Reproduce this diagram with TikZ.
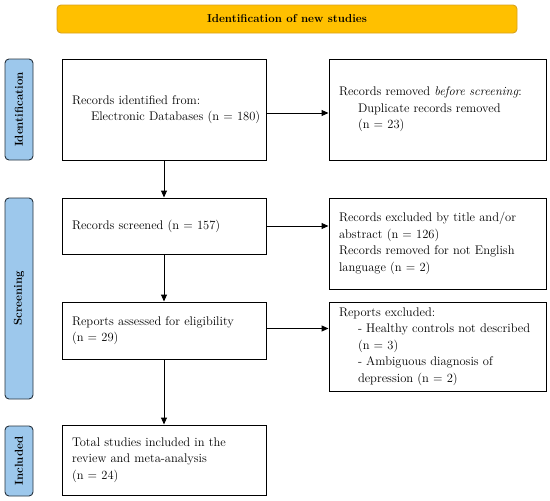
\documentclass[tikz,border=0pt]{standalone}
\usetikzlibrary{arrows.meta}
\definecolor{bannerfill}{HTML}{FFC000}
\definecolor{bannerdraw}{HTML}{D9A21E}
\definecolor{sidefill}{HTML}{9DC8EC}
\definecolor{sidedraw}{HTML}{26323E}
\begin{document}
\begin{tikzpicture}[x=1pt,y=-1pt,
  every node/.style={font=\fontsize{12.5}{16.5}\selectfont},
  box/.style={draw=black, line width=1pt, rectangle, align=left, inner xsep=10pt, inner ysep=0pt, anchor=center},
  sidebox/.style={draw=sidedraw, fill=sidefill, line width=0.9pt, rounded corners=4pt, rotate=90, minimum height=28pt, inner sep=0pt, font=\fontsize{11.5}{13}\selectfont\bfseries},
  banner/.style={draw=bannerdraw, fill=bannerfill, line width=0.9pt, rounded corners=4pt, minimum width=460pt, minimum height=28pt, inner sep=0pt, font=\fontsize{11.5}{13}\selectfont\bfseries},
  arr/.style={-{Triangle[length=7pt,width=6pt]}, line width=1pt}
]
\useasboundingbox (0,0) rectangle (550,501);
\newcommand{\ind}{\hspace*{19pt}}
\node[banner] (ban) at (287,19) {Identification of new studies};

\node[sidebox, minimum width=101pt] (sid) at (19,109.5) {Identification};
\node[sidebox, minimum width=201pt] (sscr) at (19,298.5) {Screening};
\node[sidebox, minimum width=70pt] (sinc) at (19,461) {Included};

\node[box, text width=184pt, minimum height=101pt] (b1) at (164,109.5) {Records identified from:\\\ind \mbox{Electronic Databases (n = 180)}};
\node[box, text width=197pt, minimum height=101pt] (r1) at (437.5,109.5) {Records removed \emph{before screening}:\\\ind Duplicate records removed\\\ind (n = 23)};

\node[box, text width=184pt, minimum height=56pt] (b2) at (164,226) {Records screened (n = 157)};
\node[box, text width=197pt, minimum height=91pt] (r2) at (437.5,243.5) {Records excluded by title and/or\\abstract (n = 126)\\Records removed for not English\\language (n = 2)};

\node[box, text width=184pt, minimum height=57pt] (b3) at (164,330.5) {Reports assessed for eligibility\\(n = 29)};
\node[box, text width=197pt, minimum height=89pt] (r3) at (437.5,346.5) {Reports excluded:\\\ind \mbox{- Healthy controls not described}\\\ind (n = 3)\\\ind - Ambiguous diagnosis of\\\ind depression (n = 2)};

\node[box, text width=184pt, minimum height=70pt] (b4) at (164,460) {Total studies included in the\\review and meta-analysis\\(n = 24)};

\draw[arr] ([yshift=-3.5pt]b1.east) -- ([yshift=-3.5pt]b1.east -| r1.west);
\draw[arr] (b2.east) -- (b2.east -| r2.west);
\draw[arr] ([yshift=2pt]b3.east) -- ([yshift=2pt]b3.east -| r3.west);
\draw[arr] (b1.south) -- (b2.north);
\draw[arr] (b2.south) -- (b3.north);
\draw[arr] (b3.south) -- (b4.north);
\end{tikzpicture}
\end{document}
